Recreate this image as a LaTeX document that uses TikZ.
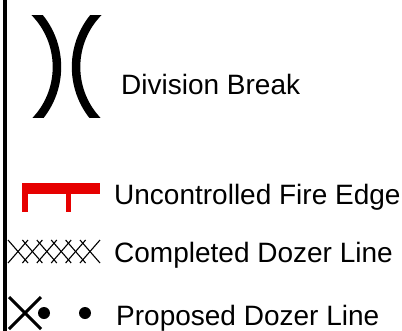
\documentclass[tikz,border=0pt]{standalone}
\usepackage{fontspec}
\setmainfont{Liberation Sans}
\definecolor{firered}{RGB}{230,0,0}
\begin{document}
\begin{tikzpicture}[x=1pt,y=-1pt,
  label/.style={inner sep=0pt,anchor=base west,font=\fontsize{28}{32}\selectfont},
  breakarc/.style={line width=8.5pt},
  hatch/.style={line width=1.1pt},
  dozer/.style={line width=3pt}]
\useasboundingbox (0,0) rectangle (402,330);
% left border line
\draw[line width=3.5pt] (5,-2) -- (5,332);
% division break
\begin{scope}
\clip (20,15) rectangle (120,117);
\draw[breakarc] (34,11.6) .. controls (64.6,42.2) and (64.6,91.8) .. (34,122.4);
\draw[breakarc] (99,11.6) .. controls (68.4,42.2) and (68.4,91.8) .. (99,122.4);
\end{scope}
\node[label] (div) at (121,94) {Division Break};
% uncontrolled fire edge
\fill[firered] (22,183) rectangle (100,193.5);
\fill[firered] (22,183) rectangle (28,212);
\fill[firered] (66,190) rectangle (71,212);
\node[label] (ufe) at (114,204) {Uncontrolled Fire Edge};
% completed dozer line
\foreach \i in {0,...,5}{
  \pgfmathsetmacro{\cx}{18+14.4*\i}
  \draw[hatch] (\cx-10,240) -- (\cx+10,263);
  \draw[hatch] (\cx-10,263) -- (\cx+10,240);
}
\node[label] (cdl) at (114,262) {Completed Dozer Line};
% proposed dozer line
\draw[dozer] (9,297) -- (41,329);
\draw[dozer] (9,329) -- (41,297);
\fill (44,313) circle[radius=6pt];
\fill (85,313) circle[radius=6pt];
\node[label] (pdl) at (116,325) {Proposed Dozer Line};
\end{tikzpicture}
\end{document}
